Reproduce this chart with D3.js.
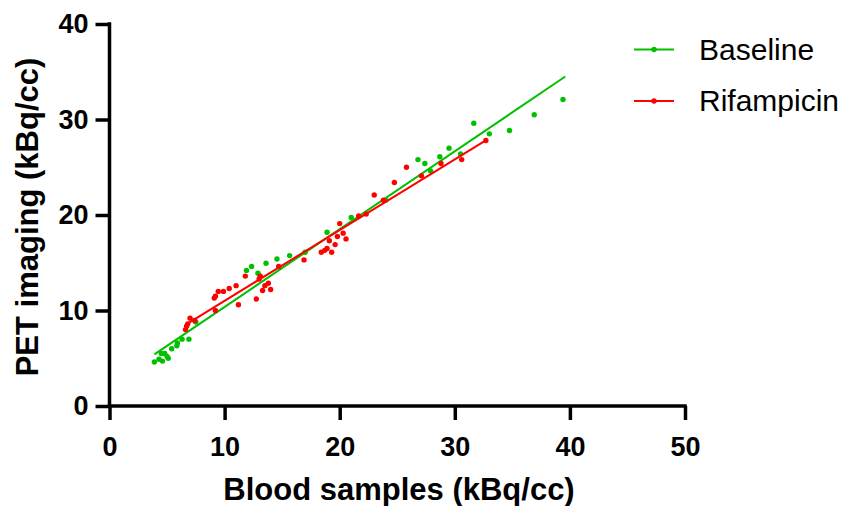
<!DOCTYPE html>
<html>
<head>
<meta charset="utf-8">
<script src="https://cdn.jsdelivr.net/npm/d3@7"></script>
<style>
  body { margin: 0; background: #fff; }
  svg { display: block; font-family: Arial, "Liberation Sans", sans-serif; }
</style>
</head>
<body>
<svg></svg>
<script>
// taille du graphique
var WIDTH = 847;
var HEIGHT = 506;

// données (x = sang, y = TEP)
const baselineX = [3.9, 4.3, 4.6, 4.5, 4.8, 5.1, 5.0, 5.4, 5.85, 5.9, 6.3, 6.9, 7.5,
  11.9, 12.35, 12.9, 13.6, 14.55, 15.65, 17.0, 18.9, 21.0, 24.0, 26.8, 27.4, 27.9,
  28.7, 29.5, 30.5, 31.65, 33.0, 34.75, 36.9, 39.4];
const baselineY = [4.6, 4.9, 4.7, 5.5, 5.5, 5.0, 5.2, 6.0, 6.3, 6.6, 7.0, 7.0, 8.8,
  14.2, 14.6, 13.9, 14.95, 15.4, 15.75, 16.1, 18.2, 19.75, 21.55, 25.8, 25.4, 24.6,
  26.1, 27.0, 26.4, 29.6, 28.5, 28.85, 30.5, 32.1];

const rifampicinX = [6.6, 6.7, 6.8, 7.0, 7.4, 9.2, 9.1, 9.2, 9.45, 9.9, 10.4, 11.0, 11.2,
  11.8, 12.75, 13.1, 13.0, 13.8, 13.5, 13.3, 14.0, 14.7, 16.9, 18.4, 18.7, 18.9, 19.3,
  19.6, 19.1, 19.8, 20.3, 20.55, 20.0, 21.65, 22.3, 23.0, 23.8, 24.75, 25.8, 27.1,
  28.8, 30.6, 32.7];
const rifampicinY = [8.0, 8.35, 8.6, 9.2, 8.95, 10.0, 11.3, 11.5, 12.0, 12.0, 12.3, 12.6, 10.6,
  13.6, 11.2, 13.6, 13.3, 12.85, 12.6, 12.1, 12.2, 14.6, 15.3, 16.1, 16.3, 16.5, 16.1,
  16.9, 17.3, 17.75, 18.1, 17.5, 19.1, 19.9, 20.1, 22.1, 21.55, 23.4, 25.0, 24.1,
  25.4, 25.8, 27.8];

// droites de régression (extrémités)
const baselineFitX = [3.9, 39.6];
const baselineFitY = [5.4, 34.5];
const rifampicinFitX = [6.6, 32.8];
const rifampicinFitY = [8.5, 27.9];

const xTicks = [0, 10, 20, 30, 40, 50];
const yTicks = [0, 10, 20, 30, 40];
const seriesNames = ["Baseline", "Rifampicin"];
const seriesColors = ["#00c000", "#ff0000"];

const svg = d3.select("svg")
  .attr("width", WIDTH)
  .attr("height", HEIGHT);

var x = d3.scaleLinear().domain([0, 50]).range([109.5, 685]);
var y = d3.scaleLinear().domain([0, 40]).range([406, 24]);

// axes
var xAxis = svg.append("g")
  .attr("transform", "translate(0,406)")
  .call(d3.axisBottom(x).tickValues(xTicks).tickSize(14).tickPadding(17).tickSizeOuter(0));
var yAxis = svg.append("g")
  .attr("transform", "translate(109.5,0)")
  .call(d3.axisLeft(y).tickValues(yTicks).tickSize(14).tickPadding(7).tickSizeOuter(0));

[xAxis, yAxis].forEach(a => {
  a.select(".domain").attr("stroke", "#000").attr("stroke-width", 3.5);
  a.selectAll(".tick line").attr("stroke", "#000").attr("stroke-width", 3.5);
  a.selectAll(".tick text")
    .attr("fill", "#000")
    .style("font-size", "27px")
    .style("font-weight", "bold")
    .style("font-family", "Arial, 'Liberation Sans', sans-serif");
});
// le trait de l'axe y descend jusqu'au bas du tick 0
yAxis.select(".domain").attr("d", "M0," + (y(40) - 1.75) + "V" + (y(0) + 1.75));
xAxis.select(".domain").attr("d", "M" + (x(0) - 1.75) + ",0H" + (x(50) + 1.75));

// titres des axes
svg.append("text")
  .attr("x", 399).attr("y", 500)
  .attr("text-anchor", "middle")
  .style("font-size", "31px").style("font-weight", "bold")
  .text("Blood samples (kBq/cc)");
svg.append("text")
  .attr("transform", "translate(38,217) rotate(-90)")
  .attr("text-anchor", "middle")
  .style("font-size", "31px").style("font-weight", "bold")
  .text("PET imaging (kBq/cc)");

// séries
var series = [
  { xs: baselineX, ys: baselineY, fx: baselineFitX, fy: baselineFitY },
  { xs: rifampicinX, ys: rifampicinY, fx: rifampicinFitX, fy: rifampicinFitY }
];
var line = d3.line().x(d => x(d[0])).y(d => y(d[1]));

series.forEach((s, i) => {
  svg.append("path")
    .datum(d3.zip(s.fx, s.fy))
    .attr("d", line)
    .attr("fill", "none")
    .attr("stroke", seriesColors[i])
    .attr("stroke-width", 2);
  svg.append("g").selectAll("circle")
    .data(d3.zip(s.xs, s.ys))
    .enter()
    .append("circle")
    .attr("cx", d => x(d[0]))
    .attr("cy", d => y(d[1]))
    .attr("r", 2.7)
    .attr("fill", seriesColors[i]);
});

// légende
var legend = svg.append("g").selectAll("g")
  .data(seriesNames)
  .enter()
  .append("g")
  .attr("transform", (d, i) => "translate(634," + (49.5 + i * 51.5) + ")");
legend.append("line")
  .attr("x1", 0).attr("x2", 40)
  .attr("stroke", (d, i) => seriesColors[i])
  .attr("stroke-width", 2);
legend.append("circle")
  .attr("cx", 20).attr("r", 2.7)
  .attr("fill", (d, i) => seriesColors[i]);
legend.append("text")
  .attr("x", 65).attr("y", 10)
  .style("font-size", "30px")
  .text(d => d);
</script>
</body>
</html>
